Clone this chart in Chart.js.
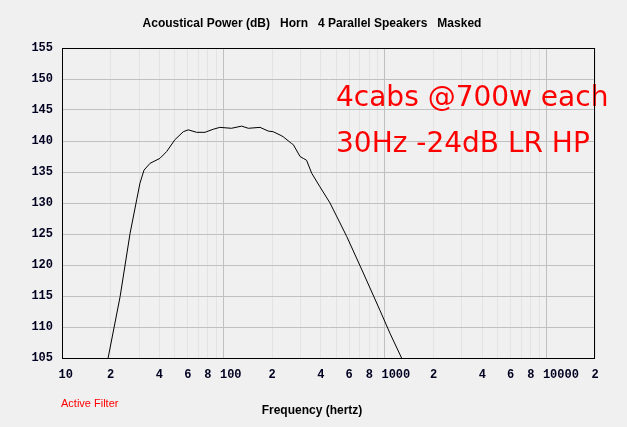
<!DOCTYPE html>
<html>
<head>
<meta charset="utf-8">
<script src="https://cdn.jsdelivr.net/npm/chart.js@4"></script>
<style>
  body { margin: 0; background: #f0f0f0; }
  #wrap { width: 627px; height: 427px; }
</style>
</head>
<body>
<div id="wrap"><canvas id="grafico" width="627" height="427"></canvas></div>
<script>
// leitura do grafico original (Hz, dB)
const frequencias = [19.3, 22.9, 26.4, 29.0, 30.4, 32.2, 35.1, 40.4, 44.5, 50, 56.4, 60.5, 68.2, 76.8, 86.5, 95,
  112, 129.6, 142.6, 168.4, 189.6, 203, 224, 234, 264, 271, 298, 312, 327, 352, 396, 457, 580, 735, 931, 1074, 1268];
const potencia = [105, 114.9, 125.1, 130.5, 133.2, 135.3, 136.4, 137.2, 138.3, 140.2, 141.5, 141.8, 141.4, 141.4, 141.9, 142.2,
  142.05, 142.4, 142.05, 142.2, 141.6, 141.5, 140.97, 140.7, 139.6, 139.4, 137.5, 137.2, 136.9, 134.8, 132.6, 130.0, 124.6, 118.7, 112.7, 109.0, 105];

// marcas do eixo x
const ticksX = [10, 20, 30, 40, 50, 60, 70, 80, 90, 100, 200, 300, 400, 500, 600, 700, 800, 900,
  1000, 2000, 3000, 4000, 5000, 6000, 7000, 8000, 9000, 10000, 20000];
const rotulosX = {10: '10', 20: '2', 40: '4', 60: '6', 80: '8', 100: '100', 200: '2', 400: '4', 600: '6', 800: '8',
  1000: '1000', 2000: '2', 4000: '4', 6000: '6', 8000: '8', 10000: '10000', 20000: '2'};

const titulo = 'Acoustical Power (dB)   Horn   4 Parallel Speakers   Masked';
const tituloX = 'Frequency (hertz)';
const filtro = 'Active Filter';
const nota = ['4cabs @700w each', '30Hz -24dB LR HP'];

const pontos = frequencias.map((f, i) => ({ x: f, y: potencia[i] }));

// textos e moldura
const textos = {
  id: 'textos',
  beforeDatasetsDraw(chart) {
    const c = chart.ctx;
    c.save();
    c.fillStyle = '#ff0000';
    c.font = '28px "DejaVu Sans"';
    c.textAlign = 'left';
    c.textBaseline = 'alphabetic';
    c.fillText(nota[0], 336, 106);
    c.fillText(nota[1], 336, 152);
    c.restore();
  },
  afterDraw(chart) {
    const c = chart.ctx;
    const a = chart.chartArea;
    c.save();
    c.strokeStyle = '#000';
    c.lineWidth = 1;
    c.strokeRect(a.left + 0.5, a.top + 0.5, a.right - a.left - 1, a.bottom - a.top);

    c.fillStyle = '#000';
    c.textBaseline = 'alphabetic';
    c.textAlign = 'center';
    c.font = 'bold 12px "Liberation Sans"';
    c.fillText(titulo, 312, 27);
    c.fillText(tituloX, 312, 414);
    c.textAlign = 'left';
    c.fillStyle = '#ff0000';
    c.font = '11px "Liberation Sans"';
    c.fillText(filtro, 61, 407);
    c.restore();
  }
};

new Chart(document.getElementById('grafico'), {
  type: 'line',
  data: {
    datasets: [{
      data: pontos,
      borderColor: '#000',
      borderWidth: 1,
      pointRadius: 0,
      tension: 0,
      fill: false
    }]
  },
  options: {
    responsive: false,
    animation: false,
    layout: { padding: { left: 0, right: 32, top: 48, bottom: 0 } },
    plugins: { legend: { display: false }, tooltip: { enabled: false }, title: { display: false } },
    scales: {
      x: {
        type: 'logarithmic',
        min: 10,
        max: 20000,
        afterBuildTicks: s => { s.ticks = ticksX.map(v => ({ value: v })); },
        afterFit: s => { s.height = 69; s.paddingLeft = 0; s.paddingRight = 0; },
        border: { display: false },
        grid: {
          drawTicks: false,
          color: ctx => ([10, 100, 1000, 10000].includes(ctx.tick.value) ? '#c0c0c0' : '#e3e3e3')
        },
        ticks: {
          autoSkip: false,
          maxRotation: 0,
          align: 'start',
          labelOffset: -3.5,
          padding: 10,
          color: '#000020',
          font: { family: '"Liberation Mono"', size: 12, weight: 'bold' },
          callback: v => rotulosX[v] || ''
        }
      },
      y: {
        min: 105,
        max: 155,
        afterFit: s => { s.width = 62; },
        border: { display: false },
        grid: { drawTicks: false, color: '#c0c0c0' },
        ticks: {
          stepSize: 5,
          padding: 9,
          color: '#000020',
          font: { family: '"Liberation Mono"', size: 12, weight: 'bold' }
        }
      }
    }
  },
  plugins: [textos]
});
</script>
</body>
</html>
